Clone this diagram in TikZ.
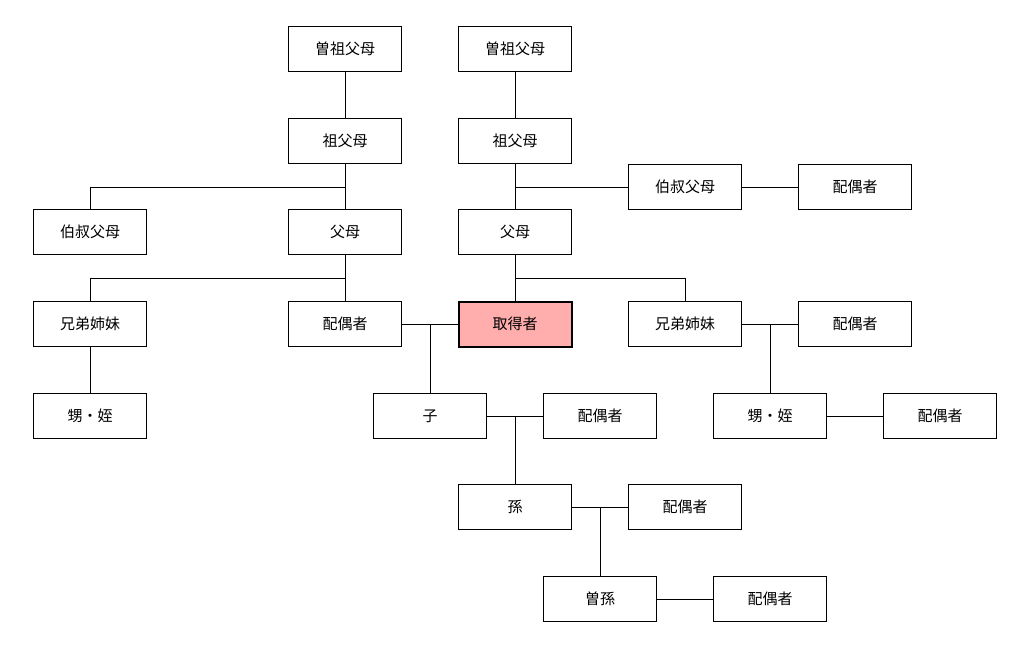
\documentclass[tikz,border=0pt]{standalone}
\usepackage{fontspec}
\setmainfont{Noto Sans CJK JP}
\begin{document}
\begin{tikzpicture}[x=1pt,y=-1pt,
  box/.style={draw,line width=0.9pt,minimum width=113pt,minimum height=45pt,inner sep=0pt,font=\fontsize{15}{18}\selectfont},
  me/.style={box,line width=2pt,fill=red!20!pink!80},
  ln/.style={line width=0.9pt}]
\useasboundingbox (0,0) rectangle (1024,648);
\node[box] (sg1) at (345,49) {曽祖父母};
\node[box] (sg2) at (515,49) {曽祖父母};
\node[box] (g1) at (345,141) {祖父母};
\node[box] (g2) at (515,141) {祖父母};
\node[box] (u1) at (90,232) {伯叔父母};
\node[box] (p1) at (345,232) {父母};
\node[box] (p2) at (515,232) {父母};
\node[box] (u2) at (685,187) {伯叔父母};
\node[box] (u2s) at (855,187) {配偶者};
\node[box] (b1) at (90,324) {兄弟姉妹};
\node[box] (sp) at (345,324) {配偶者};
\node[me] (me) at (515,324) {取得者};
\node[box] (b2) at (685,324) {兄弟姉妹};
\node[box] (b2s) at (855,324) {配偶者};
\node[box] (n1) at (90,416) {甥・姪};
\node[box] (c) at (430,416) {子};
\node[box] (cs) at (600,416) {配偶者};
\node[box] (n2) at (770,416) {甥・姪};
\node[box] (n2s) at (940,416) {配偶者};
\node[box] (gc) at (515,507) {孫};
\node[box] (gcs) at (685,507) {配偶者};
\node[box] (ggc) at (600,599) {曽孫};
\node[box] (ggcs) at (770,599) {配偶者};
\coordinate (j1) at (345,187);
\coordinate (j2) at (515,187);
\coordinate (j3) at (345,278);
\coordinate (j4) at (515,278);
\coordinate (j5) at (430,324);
\coordinate (j6) at (770,324);
\coordinate (j7) at (515,416);
\coordinate (j8) at (600,507);
\draw[ln] (sg1)--(g1);
\draw[ln] (sg2)--(g2);
\draw[ln] (g1)--(p1);
\draw[ln] (j1)-|(u1);
\draw[ln] (g2)--(p2);
\draw[ln] (j2)--(u2);
\draw[ln] (u2)--(u2s);
\draw[ln] (p1)--(sp);
\draw[ln] (j3)-|(b1);
\draw[ln] (p2)--(me);
\draw[ln] (j4)-|(b2);
\draw[ln] (sp)--(me);
\draw[ln] (j5)--(c);
\draw[ln] (b2)--(b2s);
\draw[ln] (j6)--(n2);
\draw[ln] (n2)--(n2s);
\draw[ln] (b1)--(n1);
\draw[ln] (c)--(cs);
\draw[ln] (j7)--(gc);
\draw[ln] (gc)--(gcs);
\draw[ln] (j8)--(ggc);
\draw[ln] (ggc)--(ggcs);
\end{tikzpicture}
\end{document}
